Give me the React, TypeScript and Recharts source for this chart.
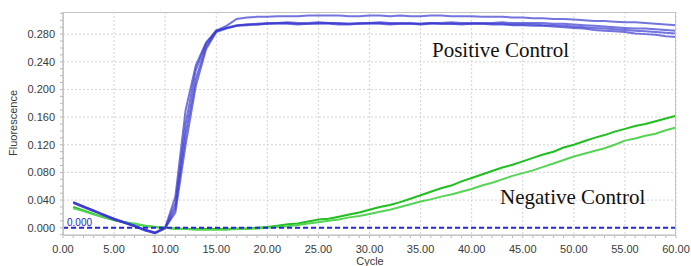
import { LineChart, Line, XAxis, YAxis, CartesianGrid, ReferenceLine } from 'recharts';

const cycles = [
  1, 2, 3, 4, 5, 6, 7, 8, 9, 10, 11, 12, 13, 14, 15, 16, 17, 18, 19, 20,
  21, 22, 23, 24, 25, 26, 27, 28, 29, 30, 31, 32, 33, 34, 35, 36, 37, 38, 39, 40,
  41, 42, 43, 44, 45, 46, 47, 48, 49, 50, 51, 52, 53, 54, 55, 56, 57, 58, 59, 60,
];

// positive control replicates
const pos1 = [
  0.037, 0.031, 0.025, 0.019, 0.013, 0.008, 0.003, -0.003, -0.007, 0.0,
  0.045, 0.17, 0.235, 0.268, 0.285, 0.292, 0.302, 0.304, 0.305, 0.305,
  0.306, 0.306, 0.306, 0.307, 0.307, 0.307, 0.307, 0.306, 0.306, 0.307,
  0.307, 0.306, 0.307, 0.306, 0.306, 0.307, 0.307, 0.306, 0.306, 0.306,
  0.305, 0.305, 0.305, 0.304, 0.304, 0.303, 0.303, 0.302, 0.302, 0.301,
  0.3, 0.299, 0.299, 0.298, 0.297, 0.297, 0.296, 0.295, 0.294, 0.293,
];
const pos2 = [
  0.036, 0.03, 0.024, 0.019, 0.013, 0.008, 0.003, -0.003, -0.008, 0.0,
  0.035, 0.15, 0.228, 0.266, 0.285, 0.289, 0.293, 0.294, 0.295, 0.296,
  0.296, 0.297, 0.296, 0.296, 0.297, 0.296, 0.296, 0.295, 0.296, 0.296,
  0.297, 0.296, 0.296, 0.296, 0.295, 0.296, 0.296, 0.297, 0.296, 0.296,
  0.296, 0.296, 0.297, 0.296, 0.296, 0.296, 0.296, 0.295, 0.295, 0.294,
  0.293, 0.292, 0.291, 0.29, 0.289, 0.288, 0.288, 0.287, 0.286, 0.285,
];
const pos3 = [
  0.037, 0.031, 0.025, 0.018, 0.012, 0.007, 0.002, -0.004, -0.008, -0.001,
  0.028, 0.135, 0.215, 0.262, 0.284, 0.289, 0.292, 0.293, 0.294, 0.295,
  0.295, 0.295, 0.294, 0.295, 0.295, 0.295, 0.294, 0.294, 0.295, 0.295,
  0.295, 0.294, 0.295, 0.295, 0.294, 0.295, 0.295, 0.295, 0.294, 0.295,
  0.295, 0.294, 0.294, 0.293, 0.293, 0.292, 0.292, 0.291, 0.29, 0.289,
  0.288, 0.286, 0.285, 0.284, 0.283, 0.281, 0.28, 0.279, 0.277, 0.276,
];
const pos4 = [
  0.036, 0.03, 0.024, 0.018, 0.012, 0.007, 0.002, -0.003, -0.007, 0.0,
  0.022, 0.12, 0.205, 0.258, 0.283, 0.288, 0.292, 0.294, 0.294, 0.295,
  0.296, 0.296, 0.295, 0.295, 0.296, 0.296, 0.295, 0.295, 0.295, 0.296,
  0.296, 0.295, 0.295, 0.295, 0.295, 0.296, 0.295, 0.295, 0.295, 0.295,
  0.295, 0.295, 0.295, 0.294, 0.294, 0.294, 0.293, 0.293, 0.292, 0.291,
  0.29, 0.289, 0.288, 0.287, 0.286, 0.285, 0.284, 0.283, 0.282, 0.281,
];

// negative control replicates
const neg1 = [
  0.03, 0.025, 0.02, 0.015, 0.011, 0.008, 0.005, 0.003, 0.001, 0.0,
  -0.001, -0.002, -0.002, -0.002, -0.002, -0.002, -0.001, -0.001, 0.0, 0.001,
  0.003, 0.005, 0.006, 0.009, 0.012, 0.013, 0.016, 0.019, 0.022, 0.026,
  0.03, 0.033, 0.037, 0.042, 0.047, 0.052, 0.057, 0.061, 0.067, 0.072,
  0.077, 0.082, 0.087, 0.091, 0.096, 0.101, 0.106, 0.11, 0.116, 0.12,
  0.125, 0.13, 0.134, 0.139, 0.143, 0.147, 0.15, 0.154, 0.158, 0.162,
];
const neg2 = [
  0.028, 0.024, 0.019, 0.015, 0.011, 0.008, 0.006, 0.003, 0.001, 0.0,
  -0.002, -0.002, -0.003, -0.003, -0.003, -0.003, -0.002, -0.002, -0.001, 0.0,
  0.001, 0.002, 0.004, 0.006, 0.008, 0.01, 0.012, 0.015, 0.017, 0.02,
  0.023, 0.026, 0.03, 0.034, 0.038, 0.041, 0.045, 0.048, 0.052, 0.056,
  0.061, 0.065, 0.07, 0.075, 0.079, 0.083, 0.088, 0.093, 0.098, 0.103,
  0.107, 0.111, 0.115, 0.12, 0.126, 0.129, 0.133, 0.136, 0.141, 0.145,
];

const xTicks = [
  0, 1, 2, 3, 4, 5, 6, 7, 8, 9, 10, 11, 12, 13, 14, 15, 16, 17, 18, 19, 20,
  21, 22, 23, 24, 25, 26, 27, 28, 29, 30, 31, 32, 33, 34, 35, 36, 37, 38, 39, 40,
  41, 42, 43, 44, 45, 46, 47, 48, 49, 50, 51, 52, 53, 54, 55, 56, 57, 58, 59, 60,
];
const xMajor = [0, 5, 10, 15, 20, 25, 30, 35, 40, 45, 50, 55, 60];
const yTicks = [
  -0.01, 0, 0.01, 0.02, 0.03, 0.04, 0.05, 0.06, 0.07, 0.08, 0.09, 0.1, 0.11,
  0.12, 0.13, 0.14, 0.15, 0.16, 0.17, 0.18, 0.19, 0.2, 0.21, 0.22, 0.23, 0.24,
  0.25, 0.26, 0.27, 0.28, 0.29, 0.3, 0.31,
];
const yMajor = [0, 0.04, 0.08, 0.12, 0.16, 0.2, 0.24, 0.28];
const threshold = 0;

const POS_SERIES = [
  { key: 'pos1', values: pos1 },
  { key: 'pos2', values: pos2 },
  { key: 'pos3', values: pos3 },
  { key: 'pos4', values: pos4 },
];
const NEG_SERIES = [
  { key: 'neg1', values: neg1, color: '#1fbf1f' },
  { key: 'neg2', values: neg2, color: '#55d455' },
];

const data = cycles.map((c, i) => {
  const row: Record<string, number> = { cycle: c };
  POS_SERIES.forEach((s) => (row[s.key] = s.values[i]));
  NEG_SERIES.forEach((s) => (row[s.key] = s.values[i]));
  return row;
});

const tickStyle = { fill: '#3a3a3a', fontSize: 11, fontFamily: 'Liberation Sans, Arial, sans-serif' };

const fmtX = (v: number) => (xMajor.includes(v) ? v.toFixed(2) : '');
const fmtY = (v: number) =>
  yMajor.some((m) => Math.abs(m - v) < 1e-6) ? v.toFixed(3) : '';

export default function App() {
  return (
    <div style={{ position: 'absolute', left: 0, top: 0, width: 691, height: 266, background: '#fff' }}>
      <LineChart width={691} height={266} data={data} margin={{ top: 12, right: 15, bottom: 0, left: 0 }}>
        <CartesianGrid
          stroke="#d4d4d4"
          strokeDasharray="2 2"
          horizontalValues={yMajor}
          verticalValues={xMajor}
        />
        <XAxis
          dataKey="cycle"
          type="number"
          domain={[0, 60]}
          ticks={xTicks}
          interval={0}
          tickFormatter={fmtX}
          tick={tickStyle}
          tickSize={3}
          tickMargin={7}
          height={31}
          stroke="#b8b8b8"
        />
        <YAxis
          type="number"
          domain={[-0.0105, 0.312]}
          allowDataOverflow
          ticks={yTicks}
          interval={0}
          tickFormatter={fmtY}
          tick={tickStyle}
          tickSize={3}
          tickMargin={5}
          width={63}
          stroke="#b8b8b8"
        />
        {NEG_SERIES.map((s) => (
          <Line
            key={s.key}
            dataKey={s.key}
            type="linear"
            stroke={s.color}
            strokeWidth={2}
            dot={false}
            isAnimationActive={false}
          />
        ))}
        {POS_SERIES.map((s) => (
          <Line
            key={s.key}
            dataKey={s.key}
            type="linear"
            stroke="#3939d0"
            strokeOpacity={0.7}
            strokeWidth={2}
            dot={false}
            isAnimationActive={false}
          />
        ))}
        <ReferenceLine y={threshold} stroke="#2626d4" strokeWidth={2} strokeDasharray="5 3" />
      </LineChart>
      <svg
        width={691}
        height={266}
        style={{ position: 'absolute', left: 0, top: 0, pointerEvents: 'none' }}
      >
        <rect x={63.5} y={12.5} width={612} height={223} fill="none" stroke="#c4c4c4" />
        <text
          x={17}
          y={123}
          transform="rotate(-90 17 123)"
          textAnchor="middle"
          fontSize={11}
          fill="#3a3a3a"
          fontFamily="Liberation Sans, Arial, sans-serif"
        >
          Fluorescence
        </text>
        <text x={370} y={265} textAnchor="middle" fontSize={11} fill="#3a3a3a" fontFamily="Liberation Sans, Arial, sans-serif">
          Cycle
        </text>
        <text x={67} y={226} fontSize={10} fill="#2626c8" fontFamily="Liberation Sans, Arial, sans-serif">
          0.000
        </text>
        <text x={432} y={57} fontSize={21} fill="#111" fontFamily="Liberation Serif, serif">
          Positive Control
        </text>
        <text x={500} y={204} fontSize={21} fill="#111" fontFamily="Liberation Serif, serif">
          Negative Control
        </text>
      </svg>
    </div>
  );
}
